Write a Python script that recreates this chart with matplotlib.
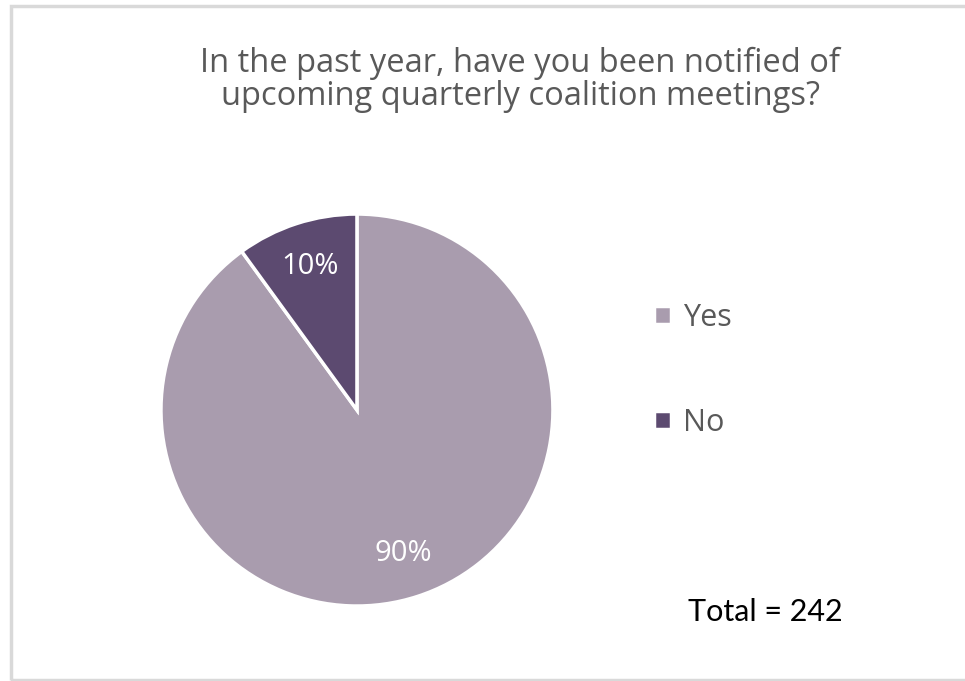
import matplotlib.pyplot as plt
from matplotlib.patches import Rectangle

# data
labels = ["Yes", "No"]
shares = [90, 10]
colors = ["#a99cae", "#5c4a70"]
total = 242
title = "In the past year, have you been notified of\nupcoming quarterly coalition meetings?"

fig = plt.figure(figsize=(9.65, 6.81), dpi=100)

# outer chart frame
fig.patches.append(Rectangle((11 / 965, 1 / 681), 960 / 965, 674 / 681,
                             transform=fig.transFigure, fill=False,
                             edgecolor="#d9d9d9", linewidth=2.5))

ax = fig.add_axes([0.1668, 0.1101, 0.4062, 0.5756])
wedges, texts, autotexts = ax.pie(
    shares, colors=colors, startangle=90, counterclock=False,
    autopct="%d%%", pctdistance=0.77,
    wedgeprops=dict(edgecolor="white", linewidth=2.5),
    textprops=dict(color="white", fontsize=21, family="Open Sans"))
ax.set_xlim(-1, 1)
ax.set_ylim(-1, 1)
ax.set_aspect("equal")

fig.text(0.539, 0.8825, title, ha="center", va="center", fontsize=23.5,
         color="#595959", family="Open Sans", linespacing=1.0)

leg = fig.legend(wedges, labels, loc="center left",
                 bbox_to_anchor=(0.662, 0.4565), frameon=False,
                 prop=dict(family="Open Sans", size=22), borderpad=0,
                 handlelength=0.55, handleheight=0.55, handletextpad=0.4,
                 labelspacing=2.45)
for t in leg.get_texts():
    t.set_color("#595959")

fig.text(0.713, 0.101, f"Total = {total}", ha="left", va="center",
         fontsize=22, color="black", family="Lato")

fig.savefig("out.png", dpi=100)
